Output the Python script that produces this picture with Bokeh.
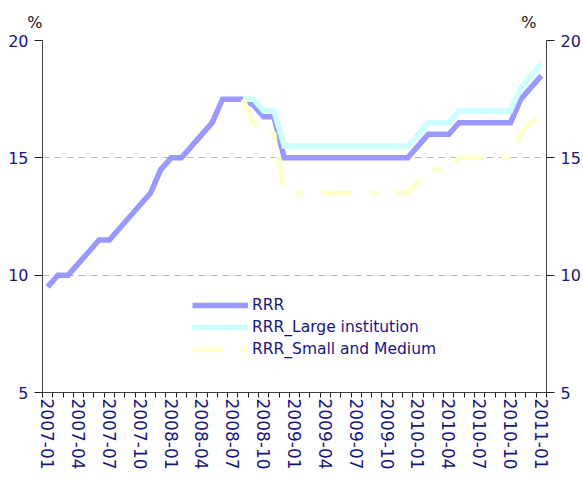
import numpy as np
from bokeh.plotting import figure
from bokeh.models import (LinearAxis, FixedTicker, Range1d, Legend, LegendItem,
                          ColumnDataSource)
from bokeh.embed import file_html
from bokeh.resources import INLINE

# ---- data ----
months = ["2007-01", "2007-02", "2007-03", "2007-04", "2007-05", "2007-06", "2007-07",
          "2007-08", "2007-09", "2007-10", "2007-11", "2007-12",
          "2008-01", "2008-02", "2008-03", "2008-04", "2008-05", "2008-06", "2008-07",
          "2008-08", "2008-09", "2008-10", "2008-11", "2008-12",
          "2009-01", "2009-02", "2009-03", "2009-04", "2009-05", "2009-06", "2009-07",
          "2009-08", "2009-09", "2009-10", "2009-11", "2009-12",
          "2010-01", "2010-02", "2010-03", "2010-04", "2010-05", "2010-06", "2010-07",
          "2010-08", "2010-09", "2010-10", "2010-11", "2010-12",
          "2011-01"]
tick_labels = ["2007-01", "2007-04", "2007-07", "2007-10", "2008-01", "2008-04", "2008-07",
               "2008-10", "2009-01", "2009-04", "2009-07", "2009-10", "2010-01", "2010-04",
               "2010-07", "2010-10", "2011-01"]
y_ticks = [5, 10, 15, 20]
unit_label = "%"

rrr = [9.5, 10, 10, 10.5, 11, 11.5, 11.5, 12, 12.5, 13, 13.5, 14.5,
       15, 15, 15.5, 16, 16.5, 17.5, 17.5, 17.5, 17.25, 16.75, 16.75, 15,
       15, 15, 15, 15, 15, 15, 15, 15, 15, 15, 15, 15,
       15.5, 16, 16, 16, 16.5, 16.5, 16.5, 16.5, 16.5, 16.5, 17.5, 18,
       18.5]
rrr_large = [None] * 19 + [17.5, 17.5, 17, 17, 15.5,
             15.5, 15.5, 15.5, 15.5, 15.5, 15.5, 15.5, 15.5, 15.5, 15.5, 15.5, 15.5,
             16, 16.5, 16.5, 16.5, 17, 17, 17, 17, 17, 17, 18, 18.5,
             19]
rrr_small = [None] * 19 + [17.5, 16.5, 16, 16, 13.5,
             13.5, 13.5, 13.5, 13.5, 13.5, 13.5, 13.5, 13.5, 13.5, 13.5, 13.5, 13.5,
             14, 14.5, 14.5, 14.5, 15, 15, 15, 15, 15, 15, 16, 16.5,
             17]
series_names = ["RRR", "RRR_Large institution", "RRR_Small and Medium"]

# ---- styling ----
NAVY = "#16167f"
FONT = "DejaVu Sans"

idx = np.arange(len(months), dtype=float)
src = ColumnDataSource(dict(
    x=idx,
    rrr=np.array(rrr, dtype=float),
    large=np.array([np.nan if v is None else v for v in rrr_large], dtype=float),
    small=np.array([np.nan if v is None else v for v in rrr_small], dtype=float),
))

x0, x1 = -0.5, len(months) - 0.5
p = figure(width=583, height=477, output_backend="svg", toolbar_location=None,
           x_range=Range1d(x0, x1), y_range=Range1d(y_ticks[0], y_ticks[-1]),
           min_border_left=42, min_border_right=36, min_border_top=40, min_border_bottom=85)
p.outline_line_color = None
p.background_fill_color = "white"
p.border_fill_color = "white"

# grid
p.xgrid.visible = False
p.ygrid.ticker = FixedTicker(ticks=y_ticks)
p.ygrid.grid_line_color = "#b4b4b4"
p.ygrid.grid_line_dash = "7 5"
p.ygrid.grid_line_width = 1

# lines
r1 = p.line("x", "rrr", source=src, line_color="#9999ff", line_width=5.5,
            line_join="miter")
r2 = p.line("x", "large", source=src, line_color="#ccffff", line_width=5.5,
            line_join="miter")
r3 = p.line("x", "small", source=src, line_color="#ffffcc", line_width=5,
            line_dash="31 17 9 17", line_join="miter")

# x axis
xa = p.xaxis[0]
major = [months.index(t) for t in tick_labels]
xa.ticker = FixedTicker(ticks=major, minor_ticks=list(np.arange(x0, x1 + 0.01, 1.0)))
xa.major_label_overrides = {i: t for i, t in zip(major, tick_labels)}
xa.major_label_orientation = "vertical"
xa.major_tick_line_color = None
xa.major_tick_out = 0
xa.major_tick_in = 0
xa.minor_tick_out = 5
xa.minor_tick_in = 0
xa.minor_tick_line_color = "#202020"
xa.axis_line_color = "#404040"
xa.major_label_standoff = 1
xa.major_label_text_font = FONT
xa.major_label_text_font_size = "17px"
xa.major_label_text_color = NAVY

# y axes
ya = p.yaxis[0]
ra = LinearAxis()
p.add_layout(ra, "right")
for ax in (ya, ra):
    ax.ticker = FixedTicker(ticks=y_ticks)
    ax.major_tick_out = 8
    ax.major_tick_in = 0
    ax.minor_tick_line_color = None
    ax.major_tick_line_color = "#202020"
    ax.axis_line_color = "#404040"
    ax.major_label_standoff = 6
    ax.major_label_text_font = FONT
    ax.major_label_text_font_size = "16px"
    ax.major_label_text_color = NAVY

# "%" unit labels above both value axes (an axis above with two labelled positions);
# a tiny negative orientation makes the labels right-aligned on their positions
px_per_cat = 505 / len(months)
pct_pos = [x0 + 0.0001, x1 - 10 / px_per_cat]
ta = LinearAxis(ticker=FixedTicker(ticks=pct_pos),
                major_label_overrides={v: unit_label for v in pct_pos})
ta.axis_line_color = None
ta.major_tick_line_color = None
ta.minor_tick_line_color = None
ta.major_tick_out = 0
ta.major_tick_in = 0
ta.major_label_orientation = -1e-4
ta.major_label_standoff = 18
ta.major_label_text_font = FONT
ta.major_label_text_font_size = "16px"
ta.major_label_text_color = "#202020"
p.add_layout(ta, "above")

# legend
legend = Legend(items=[LegendItem(label=series_names[0], renderers=[r1]),
                       LegendItem(label=series_names[1], renderers=[r2]),
                       LegendItem(label=series_names[2], renderers=[r3])],
                location=(150, 32), orientation="vertical",
                glyph_width=56, glyph_height=22, label_height=22, label_standoff=4,
                spacing=0, padding=0, margin=0,
                border_line_color=None, background_fill_alpha=0,
                label_text_font=FONT, label_text_font_size="15.5px",
                label_text_color=NAVY)
p.add_layout(legend, "center")

open("out.html", "w").write(file_html(p, INLINE))
